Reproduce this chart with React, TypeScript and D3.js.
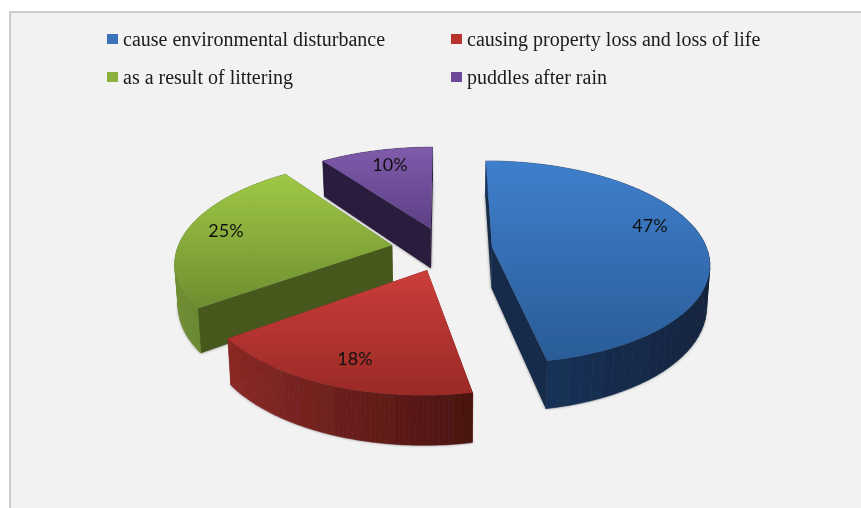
import React from "react";
import * as d3 from "d3";

const categories = ["cause environmental disturbance", "causing property loss and loss of life", "as a result of littering", "puddles after rain"];
const values = [47, 18, 25, 10];
const labels = ["47%", "18%", "25%", "10%"];
const topColors = [["#3f7fcc", "#2a5c98"], ["#cb3d39", "#9a2a27"], ["#9fc845", "#6d8e30"], ["#7f5cab", "#5d3f86"]];
const legendColors = ["#3a72b8", "#b8322f", "#8cb03c", "#6d4a98"];
const radialColors = ["#15294a", "#6e1f1c", "#46581f", "#2a1f3e"];
const wallColors = [["#1b3761", "#12243f"], ["#8a2a26", "#4a1210"], ["#6f8f33", "#5a7629"], ["#2a1f3e", "#2a1f3e"]];
const explode = [0.22, 0.22, 0.25, 0.22];
const labelPos = [[650, 226], [355, 359], [226, 231], [390, 165]];
const legendPos = [[107, 46], [451, 46], [107, 84], [451, 84]];
const drawOrder = [3, 0, 2, 1];

const W = 861, H = 508;
const cx = 445, cy = 249, R = 215, Rv = 99.5, k = 0.15, depth = 41;

type P = [number, number];
function project(X: number, Y: number, low = false): P {
  const w = 1 + k * Y;
  const x = cx + (R * X) / w;
  const y = cy - (Rv * Y) / w;
  if (!low) return [x, y];
  return [cx + (x - cx) * 0.987, y + depth / w];
}

const arcs = d3.pie<number>().sort(null).startAngle(0).endAngle(2 * Math.PI)(values);
const line = d3.line();

function Slice({ i }: { i: number }) {
  const a = arcs[i];
  const mid = (a.startAngle + a.endAngle) / 2;
  const ox = explode[i] * Math.sin(mid);
  const oy = explode[i] * Math.cos(mid);
  const angles = d3.range(0, 61).map((t) => a.startAngle + ((a.endAngle - a.startAngle) * t) / 60);
  const rim = angles.map((t) => [ox + Math.sin(t), oy + Math.cos(t)] as P);
  const top = [project(ox, oy), ...rim.map((p) => project(p[0], p[1]))];
  const shade = d3.scaleLinear<string>().domain(d3.extent(rim.map((p) => project(p[0], p[1])[0])) as P).range(wallColors[i] as any).interpolate(d3.interpolateRgb);
  const quad = (p: P, q: P) => line([project(p[0], p[1]), project(q[0], q[1]), project(q[0], q[1], true), project(p[0], p[1], true)]) + "Z";
  const c: P = [ox, oy];
  const bottom = [project(ox, oy, true), ...rim.map((p) => project(p[0], p[1], true))];
  return (
    <g>
      <path d={line(bottom) + "Z"} fill="#555" filter="url(#sh)" opacity={0.75} />
      <path d={quad(c, rim[0])} fill={radialColors[i]} />
      <path d={quad(c, rim[60])} fill={radialColors[i]} />
      {rim.slice(0, 60).map((p, t) => (
        <path key={t} d={quad(p, rim[t + 1])} fill={shade(project(p[0], p[1])[0])} stroke={shade(project(p[0], p[1])[0])} strokeWidth={0.5} />
      ))}
      <path d={line(top) + "Z"} fill={`url(#top${i})`} />
    </g>
  );
}

export default function App() {
  return (
    <svg width={W} height={H} viewBox={`0 0 ${W} ${H}`} style={{ position: "absolute", left: 0, top: 0, background: "#fff" }}>
      <defs>
        <filter id="soft" x="-5%" y="-5%" width="110%" height="110%"><feGaussianBlur stdDeviation="0.55" /></filter>
        <filter id="sh" x="-10%" y="-10%" width="120%" height="120%"><feGaussianBlur stdDeviation="1.6" /></filter>
        {topColors.map((c, i) => (
          <linearGradient key={i} id={`top${i}`} x1="0" y1="0" x2="0" y2="1">
            <stop offset="0" stopColor={c[0]} />
            <stop offset="1" stopColor={c[1]} />
          </linearGradient>
        ))}
      </defs>
      <g filter="url(#soft)">
        <rect x={10} y={12} width={W} height={H} fill="#f2f2f2" stroke="#bdbdbd" strokeWidth={1.5} />
        {drawOrder.map((i) => <Slice key={i} i={i} />)}
        {labels.map((t, i) => (
          <text key={t} x={labelPos[i][0]} y={labelPos[i][1]} dy="0.35em" textAnchor="middle" fontFamily="Lato, 'Open Sans', sans-serif" fontSize={18} fill="#111">{t}</text>
        ))}
        {categories.map((t, i) => (
          <g key={t}>
            <rect x={legendPos[i][0]} y={legendPos[i][1] - 12} width={11} height={10} fill={legendColors[i]} />
            <text x={legendPos[i][0] + 16} y={legendPos[i][1]} fontFamily="'Liberation Serif', serif" fontSize={20} fill="#1a1a1a">{t}</text>
          </g>
        ))}
      </g>
    </svg>
  );
}
